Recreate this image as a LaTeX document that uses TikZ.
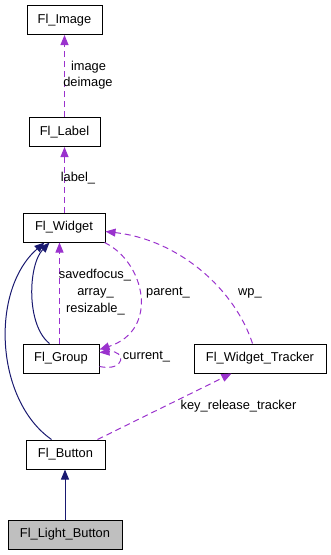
\documentclass[tikz,border=0pt]{standalone}
\usepackage{fontspec}
\setmainfont{Liberation Sans}
\usetikzlibrary{arrows.meta}
\definecolor{usecol}{HTML}{9A32CD}
\definecolor{inhcol}{HTML}{191970}
\definecolor{hlcol}{HTML}{BFBFBF}
\begin{document}
\begin{tikzpicture}[x=1pt,y=-1pt,
  font=\fontsize{12.85}{15}\selectfont,
  cls/.style={draw=black,line width=1pt,fill=white,inner sep=0pt,
    minimum height=29pt,text=black},
  inh/.style={draw=inhcol,line width=1pt,
    -{Triangle[length=10pt,width=8pt]},fill=none},
  dep/.style={draw=usecol,line width=1pt,dash pattern=on 6pt off 4pt,
    -{Triangle[length=10pt,width=8pt,fill=usecol]}},
  lbl/.style={inner sep=0pt,text=black}]
\useasboundingbox (0,0) rectangle (331,555);

% classes
\node[cls,minimum width=75pt]  (image)   at (64.5,20)    {Fl\_Image};
\node[cls,minimum width=71pt]  (label)   at (64.5,132)   {Fl\_Label};
\node[cls,minimum width=82pt]  (widget)  at (64,227.5)   {Fl\_Widget};
\node[cls,minimum width=76pt]  (group)   at (61,358.5)   {Fl\_Group};
\node[cls,minimum width=132pt] (tracker) at (260,358.5)  {Fl\_Widget\_Tracker};
\node[cls,minimum width=79pt]  (button)  at (65.5,454.5) {Fl\_Button};
\node[cls,minimum width=114pt,fill=hlcol] (light) at (65,534.5) {Fl\_Light\_Button};

% member relations
\draw[dep] (label.north) -- (image.south);
\node[lbl] (limage)   at (88.5,67) {image};
\node[lbl] (ldeimage) at (88,83)   {deimage};

\draw[dep] (widget.north -| label.south) -- (label.south);
\node[lbl] (llabel) at (78,178) {label\_};

\draw[dep] ([xshift=37pt]group.north west) -- ([xshift=37pt]widget.south west);
\node[lbl] (lsaved) at (95,275)   {savedfocus\_};
\node[lbl] (larray) at (95.5,293) {array\_};
\node[lbl] (lresiz) at (95.5,309) {resizable\_};

\draw[dep] ([xshift=82pt]widget.south west)
  .. controls (145,262) and (160,330) .. ([yshift=-6pt]group.north east);
\node[lbl] (lparent) at (168,293) {parent\_};

\draw[dep] ([yshift=-23pt]group.north east)
  .. controls (126,372) and (126,350) .. ([yshift=-9pt]group.north east);
\node[lbl] (lcurrent) at (146.5,357) {current\_};

\draw[dep] ([xshift=59pt]tracker.north west)
  .. controls (235,290) and (180,240) .. ([yshift=-19pt]widget.north east);
\node[lbl] (lwp) at (250,293) {wp\_};

\draw[dep] ([xshift=72pt]button.north west) -- ([xshift=38pt]tracker.south west);
\node[lbl] (lkey) at (238.5,406) {key\_release\_tracker};

% inheritance
\draw[inh] ([xshift=27pt]group.north west)
  .. controls (26,325) and (28,265) .. ([xshift=27pt]widget.south west);
\draw[inh] ([xshift=26pt]button.north west)
  .. controls (-5,400) and (-10,290) .. ([xshift=22pt]widget.south west);
\draw[inh] (light.north) -- (light.north |- button.south);
\end{tikzpicture}
\end{document}
